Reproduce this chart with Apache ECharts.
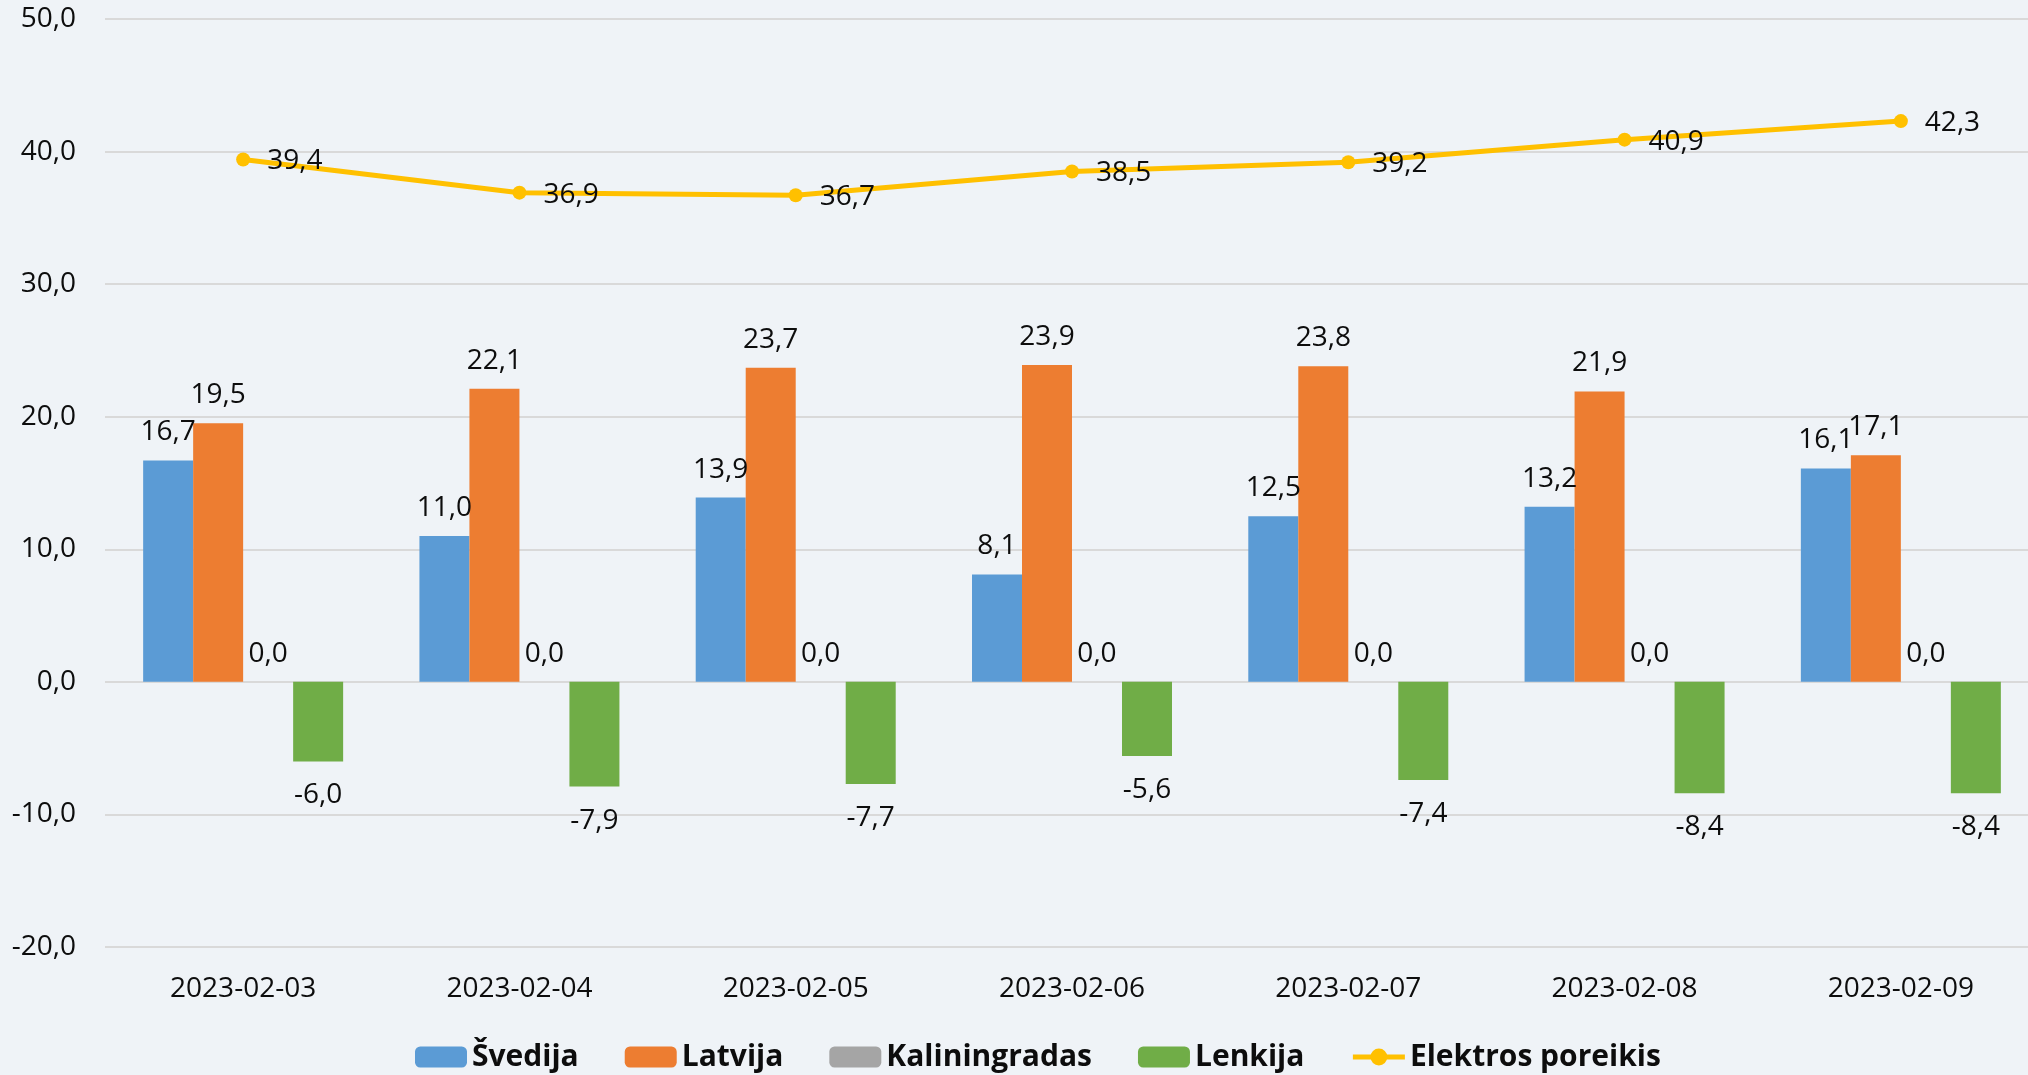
<!DOCTYPE html>
<html>
<head>
<meta charset="utf-8">
<script src="https://cdn.jsdelivr.net/npm/echarts@6/dist/echarts.min.js"></script>
<style>
html,body{margin:0;padding:0;background:#EFF3F7;}
#c{width:2028px;height:1075px;}
</style>
</head>
<body>
<div id="c"></div>
<script>
const categories = ['2023-02-03','2023-02-04','2023-02-05','2023-02-06','2023-02-07','2023-02-08','2023-02-09'];
const svedija = [16.7, 11.0, 13.9, 8.1, 12.5, 13.2, 16.1];
const latvija = [19.5, 22.1, 23.7, 23.9, 23.8, 21.9, 17.1];
const kaliningradas = [0, 0, 0, 0, 0, 0, 0];
const lenkija = [-6.0, -7.9, -7.7, -5.6, -7.4, -8.4, -8.4];
const elektros = [39.4, 36.9, 36.7, 38.5, 39.2, 40.9, 42.3];
const yMin = -20, yMax = 50, yStep = 10;

const FONT = '"Open Sans", "Noto Sans", sans-serif';
const fmt = v => Number(v).toFixed(1).replace('.', ',');
const txt = '#0d0d0d';

function barLabel(pos, dist) {
  return {show: true, position: pos, distance: dist, color: txt, fontFamily: FONT, fontSize: 28,
          formatter: p => fmt(p.value)};
}

const chart = echarts.init(document.getElementById('c'));
chart.setOption({
  backgroundColor: '#EFF3F7',
  animation: false,
  grid: {left: 105, right: -11, top: 19, bottom: 128, containLabel: false, outerBoundsMode: 'none'},
  legend: {
    left: 410, top: 1037,
    itemWidth: 52, itemHeight: 21, itemGap: 46,
    textStyle: {fontFamily: FONT, fontSize: 30, fontWeight: 'bold', color: txt},
    data: ['Švedija','Latvija','Kaliningradas','Lenkija',
           {name: 'Elektros poreikis', lineStyle: {width: 5, color: '#FFC000'},
            itemStyle: {color: '#FFC000'}}]
  },
  xAxis: {
    type: 'category', data: categories,
    axisLine: {show: false}, axisTick: {show: false},
    axisLabel: {color: txt, fontFamily: FONT, fontSize: 28, margin: 28}
  },
  yAxis: {
    type: 'value', min: yMin, max: yMax, interval: yStep,
    axisLine: {show: false}, axisTick: {show: false},
    axisLabel: {color: txt, fontFamily: FONT, fontSize: 28, margin: 29, formatter: v => fmt(v)},
    splitLine: {lineStyle: {color: '#D9D9D9', width: 2}}
  },
  series: [
    {name: 'Švedija', type: 'bar', data: svedija, barWidth: 50, barGap: '0%',
     itemStyle: {color: '#5B9BD5'}, label: barLabel('top', 14)},
    {name: 'Latvija', type: 'bar', data: latvija, barWidth: 50, barGap: '0%',
     itemStyle: {color: '#ED7D31'}, label: barLabel('top', 14)},
    {name: 'Kaliningradas', type: 'bar', data: kaliningradas, barWidth: 50, barGap: '0%',
     itemStyle: {color: '#A5A5A5'}, label: barLabel('top', 14)},
    {name: 'Lenkija', type: 'bar', data: lenkija, barWidth: 50, barGap: '0%',
     itemStyle: {color: '#70AD47'}, label: barLabel('bottom', 20)},
    {name: 'Elektros poreikis', type: 'line', data: elektros,
     symbol: 'circle', symbolSize: 14,
     lineStyle: {color: '#FFC000', width: 5},
     itemStyle: {color: '#FFC000'},
     label: {show: true, position: 'right', distance: 17, offset: [0, 2], color: txt, fontFamily: FONT, fontSize: 28,
             formatter: p => fmt(p.value)},
     z: 5}
  ]
});
</script>
</body>
</html>
